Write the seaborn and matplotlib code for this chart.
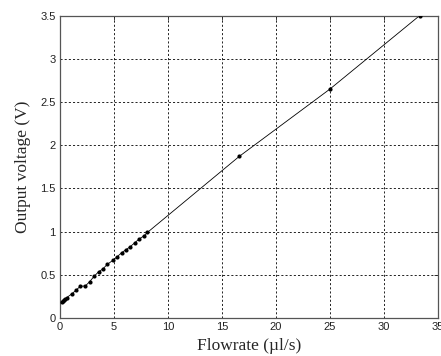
import numpy as np
import pandas as pd
import matplotlib
matplotlib.use("Agg")
import matplotlib.pyplot as plt
import seaborn as sns

flowrate = [0.22, 0.31, 0.40, 0.49, 0.62, 1.08, 1.48, 1.88, 2.35, 2.75, 3.15, 3.58,
            3.95, 4.38, 4.88, 5.31, 5.71, 6.11, 6.51, 6.92, 7.34, 7.78, 8.1,
            16.6, 25.0, 33.3]
voltage = [0.19, 0.20, 0.21, 0.22, 0.235, 0.277, 0.32, 0.366, 0.37, 0.42, 0.48, 0.535,
           0.565, 0.62, 0.665, 0.71, 0.755, 0.79, 0.825, 0.87, 0.915, 0.95, 0.99,
           1.87, 2.65, 3.50]
xticks = [0, 5, 10, 15, 20, 25, 30, 35]
yticks = [0, 0.5, 1, 1.5, 2, 2.5, 3, 3.5]
ytick_labels = ["0", "0.5", "1", "1.5", "2", "2.5", "3", "3.5"]

sns.set_style("white")
plt.rcParams['font.family'] = ['Liberation Sans', 'DejaVu Sans']

df = pd.DataFrame({"Flowrate": flowrate, "Voltage": voltage})

fig = plt.figure(figsize=(4.41, 3.56), dpi=100)
ax = fig.add_axes([0.136, 0.107, 0.857, 0.849])

sns.lineplot(data=df, x="Flowrate", y="Voltage", ax=ax, color="black",
             linewidth=0.6, sort=False, estimator=None)
sns.scatterplot(data=df, x="Flowrate", y="Voltage", ax=ax, color="black",
                s=9, edgecolor="black", linewidth=0, zorder=3)

ax.set_xlim(0, 35)
ax.set_ylim(0, 3.5)
ax.set_xticks(xticks)
ax.set_xticklabels([str(t) for t in xticks])
ax.set_yticks(yticks)
ax.set_yticklabels(ytick_labels)
ax.grid(True, color="black", linestyle=(0, (2.5, 2.5)), linewidth=0.6)
ax.set_axisbelow(True)
ax.tick_params(direction="in", length=3, width=0.6, labelsize=8, colors="#222222",
               top=True, right=True, pad=3)
for sp in ax.spines.values():
    sp.set_color("#555555")
    sp.set_linewidth(0.9)
    sp.set_visible(True)

ax.set_xlabel("Flowrate (\u00b5l/s)", family=["Liberation Serif"], fontsize=12.5, labelpad=4)
ax.set_ylabel("Output voltage (V)", family=["Liberation Serif"], fontsize=12.5, labelpad=7)

fig.savefig("out.png", dpi=100)
